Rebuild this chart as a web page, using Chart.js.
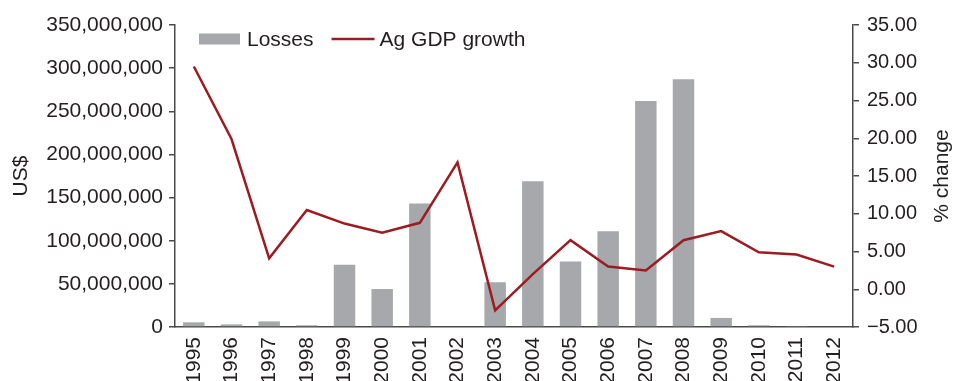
<!DOCTYPE html>
<html>
<head>
<meta charset="utf-8">
<script src="https://cdn.jsdelivr.net/npm/chart.js@4/dist/chart.umd.min.js"></script>
<style>
  html, body { margin: 0; padding: 0; background: #fff; }
  #wrap { width: 956px; height: 381px; }
</style>
</head>
<body>
<div id="wrap"><canvas id="myChart"></canvas></div>
<script>
// data
var years = ["1995","1996","1997","1998","1999","2000","2001","2002","2003",
             "2004","2005","2006","2007","2008","2009","2010","2011","2012"];
var losses = [5400000, 3000000, 6500000, 2000000, 72000000, 44000000, 143000000, 0, 52000000,
              169000000, 76000000, 111000000, 262000000, 287000000, 10500000, 2000000, 600000, 0];
var agGdp = [29.5, 19.9, 4.1, 10.5, 8.7, 7.5, 8.8, 16.8, -2.8,
             2.0, 6.5, 3.0, 2.5, 6.5, 7.7, 4.9, 4.6, 3.0];
var leftTicks = [0, 50000000, 100000000, 150000000, 200000000, 250000000, 300000000, 350000000];
var rightTicks = [-5, 0, 5, 10, 15, 20, 25, 30, 35];

var ink = "#231f20";
var axisGray = "#4a4a4a";
var fontFam = "'Liberation Sans', Arial, sans-serif";

// right axis title reads bottom-to-top, so draw it by hand
var rightTitle = {
  id: "rightTitle",
  afterDraw: function(chart) {
    var c = chart.ctx, s = chart.scales.y1;
    c.save();
    c.translate(942, (s.top + s.bottom) / 2);
    c.rotate(-Math.PI / 2);
    c.font = "21px " + fontFam;
    c.fillStyle = ink;
    c.textAlign = "center";
    c.textBaseline = "middle";
    c.fillText("% change", 0, 0);
    c.restore();
  }
};

// one-row legend inside the plot, top left
var rowLegend = {
  id: "rowLegend",
  afterDraw: function(chart) {
    var c = chart.ctx;
    var ds = chart.data.datasets;
    var x = chart.chartArea.left + 24, y = chart.chartArea.top + 14;
    c.save();
    c.font = "21px " + fontFam;
    c.textBaseline = "middle";
    c.textAlign = "left";
    ds.forEach(function(d) {
      if (d.type === "line") {
        c.strokeStyle = d.borderColor;
        c.lineWidth = d.borderWidth;
        c.beginPath();
        c.moveTo(x, y);
        c.lineTo(x + 43, y);
        c.stroke();
      } else {
        c.fillStyle = d.backgroundColor;
        c.fillRect(x, y - 5.5, 41, 11);
      }
      x += 48;
      c.fillStyle = ink;
      c.fillText(d.label, x, y + 1);
      x += c.measureText(d.label).width + 18;
    });
    c.restore();
  }
};

Chart.defaults.font.family = fontFam;
Chart.defaults.color = ink;

new Chart("myChart", {
  type: "bar",
  data: {
    labels: years,
    datasets: [{
      label: "Losses",
      data: losses,
      backgroundColor: "#a6a8ab",
      borderWidth: 0,
      categoryPercentage: 1,
      barPercentage: 0.57,
      yAxisID: "y",
      order: 1
    }, {
      type: "line",
      label: "Ag GDP growth",
      data: agGdp,
      borderColor: "#9b1c22",
      backgroundColor: "#9b1c22",
      borderWidth: 2.5,
      pointRadius: 0,
      tension: 0,
      yAxisID: "y1",
      order: 0
    }]
  },
  options: {
    responsive: true,
    maintainAspectRatio: false,
    animation: false,
    layout: { padding: { top: 25, left: 0, right: 0, bottom: 0 } },
    plugins: {
      legend: { display: false },
      tooltip: { enabled: false }
    },
    scales: {
      x: {
        grid: { display: false, drawTicks: false },
        border: { display: true, color: axisGray, width: 1.5 },
        ticks: { minRotation: 90, maxRotation: 90, padding: 10, font: { size: 21 }, color: ink },
        afterFit: function(s) { s.height = 54; }
      },
      y: {
        position: "left",
        min: 0,
        max: 350000000,
        grid: { drawOnChartArea: false, tickLength: 6, color: axisGray, lineWidth: 1.5 },
        border: { display: true, color: axisGray, width: 1.5 },
        afterBuildTicks: function(s) { s.ticks = leftTicks.map(function(v) { return { value: v }; }); },
        ticks: {
          padding: 6,
          font: { size: 21 },
          color: ink,
          callback: function(v) { return Number(v).toLocaleString("en-US"); }
        },
        title: { display: true, text: "US$", font: { size: 21 }, color: ink, padding: { top: 9, bottom: 0 } },
        afterFit: function(s) { s.width = 175; }
      },
      y1: {
        position: "right",
        min: -5,
        max: 35,
        grid: { drawOnChartArea: false, tickLength: 6, color: axisGray, lineWidth: 1.5 },
        border: { display: true, color: axisGray, width: 1.5 },
        afterBuildTicks: function(s) { s.ticks = rightTicks.map(function(v) { return { value: v }; }); },
        ticks: {
          padding: 8,
          font: { size: 20 },
          color: ink,
          callback: function(v) { return (v < 0 ? "\u2212" : "") + Math.abs(v).toFixed(2); }
        },
        afterFit: function(s) { s.width = 103; }
      }
    }
  },
  plugins: [rightTitle, rowLegend]
});
</script>
</body>
</html>
